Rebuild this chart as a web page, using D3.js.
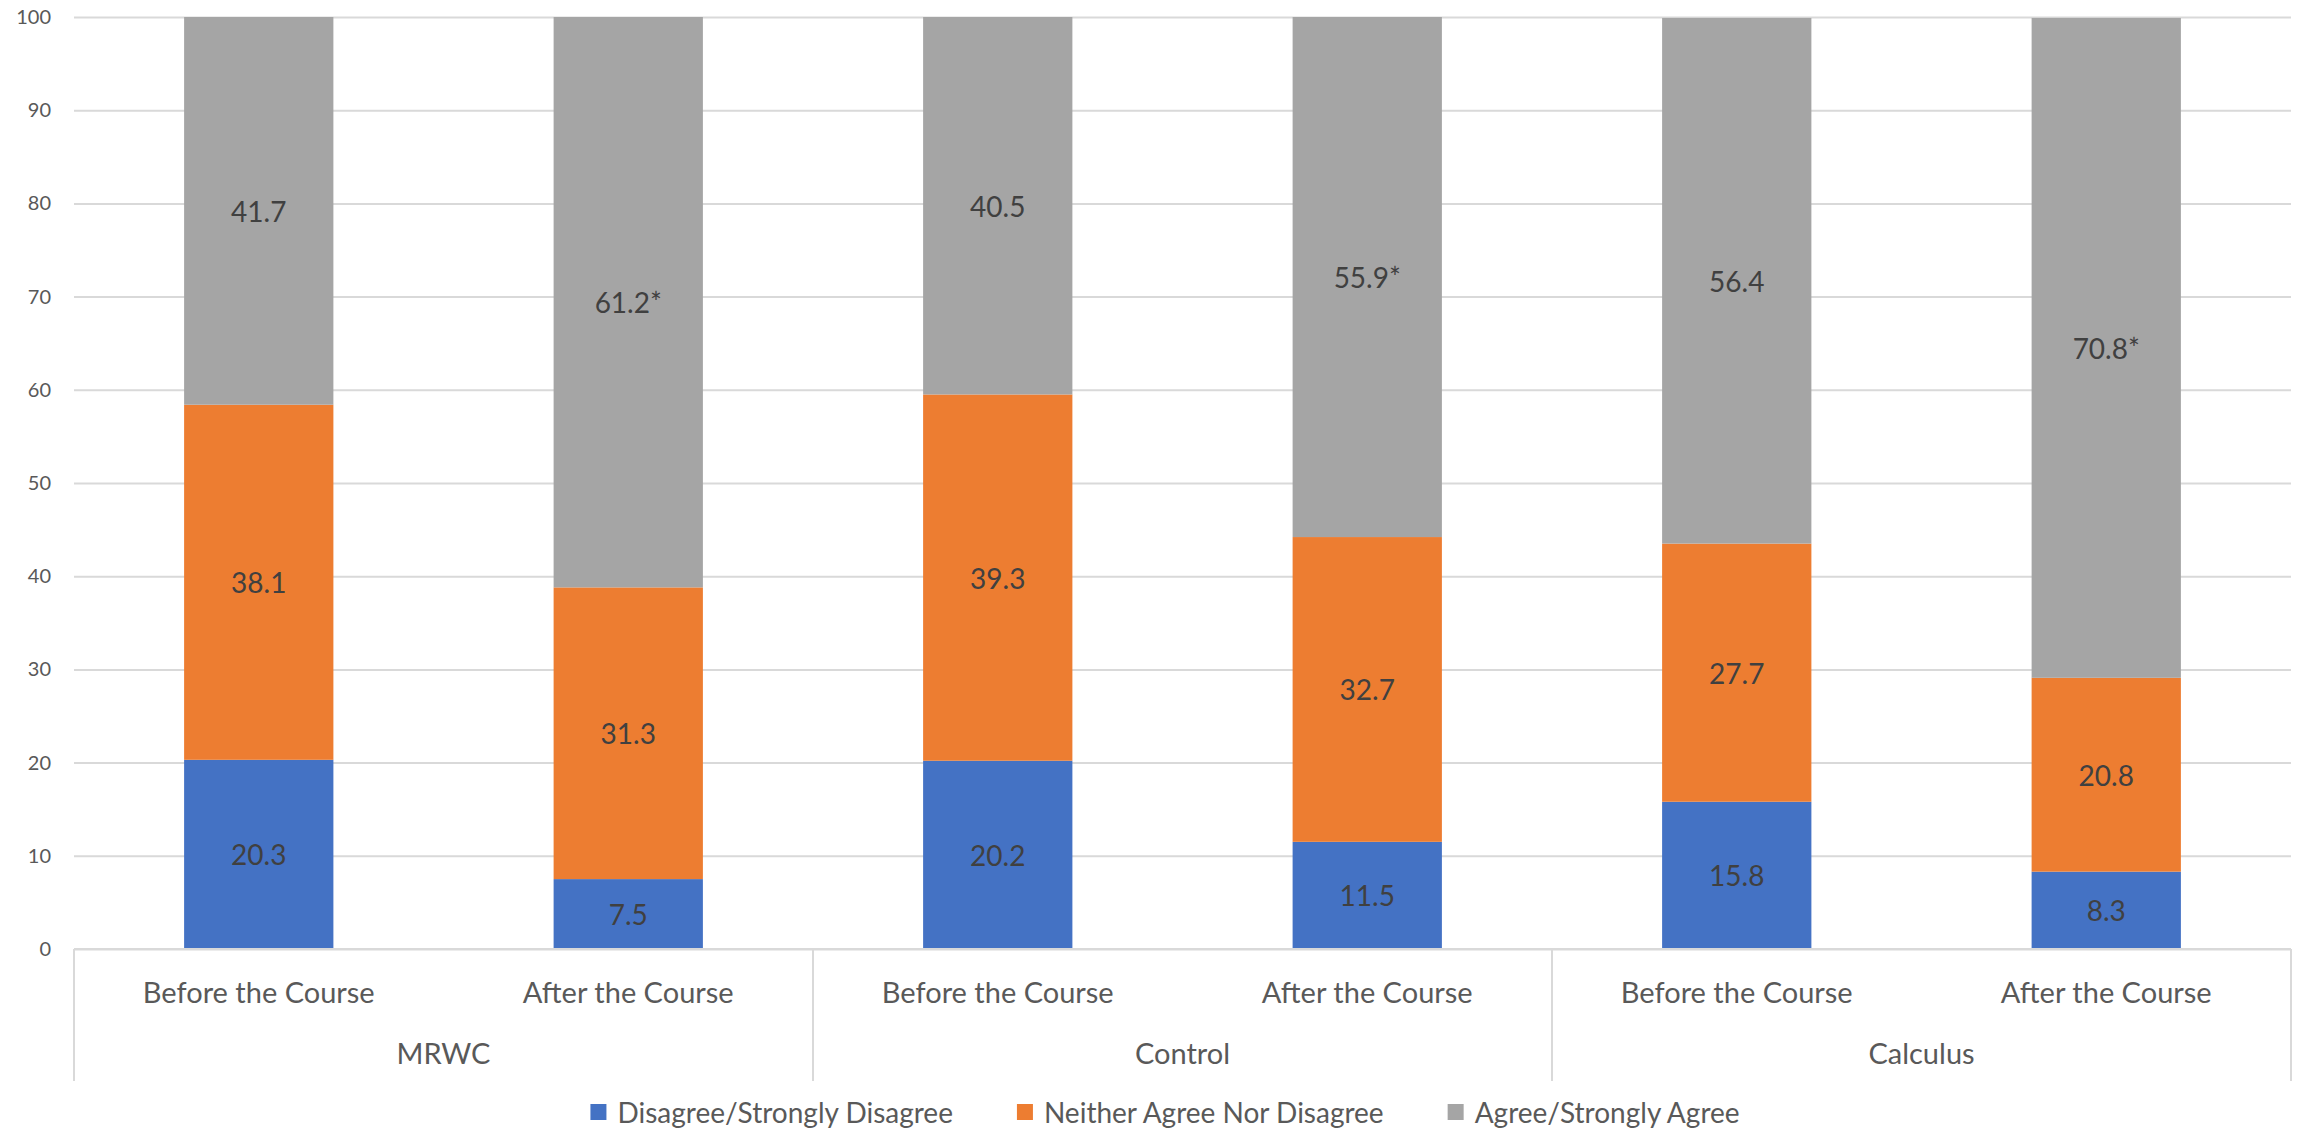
<!DOCTYPE html>
<html>
<head>
<meta charset="utf-8">
<script src="https://cdn.jsdelivr.net/npm/d3@7/dist/d3.min.js"></script>
<style>
  html, body { margin: 0; padding: 0; background: #ffffff; }
  svg { display: block; }
  text { font-family: Lato, "Liberation Sans", sans-serif; }
</style>
</head>
<body>
<svg id="chart" width="2302" height="1128"></svg>
<script>
// Survey responses (percent) per course and time point
const groups = ["MRWC", "Control", "Calculus"];
const phases = ["Before the Course", "After the Course"];
const disagree = [20.3, 7.5, 20.2, 11.5, 15.8, 8.3];
const neutral  = [38.1, 31.3, 39.3, 32.7, 27.7, 20.8];
const agree    = [41.7, 61.2, 40.5, 55.9, 56.4, 70.8];
const agreeLabels = ["41.7", "61.2*", "40.5", "55.9*", "56.4", "70.8*"];
const seriesNames = ["Disagree/Strongly Disagree", "Neither Agree Nor Disagree", "Agree/Strongly Agree"];
const seriesColors = ["#4472c4", "#ed7d31", "#a5a5a5"];
const yTicks = [0, 10, 20, 30, 40, 50, 60, 70, 80, 90, 100];

const svg = d3.select("#chart");
const W = 2302, H = 1128;
const plot = { left: 74, right: 2291, top: 17, bottom: 949 };

// one row per bar: group, phase and the three series values
const rows = disagree.map((d, i) => ({
  idx: i,
  group: groups[Math.floor(i / phases.length)],
  phase: phases[i % phases.length],
  disagree: d,
  neutral: neutral[i],
  agree: agree[i],
  labels: [d.toFixed(1), neutral[i].toFixed(1), agreeLabels[i]]
}));

const keys = ["disagree", "neutral", "agree"];
const stacked = d3.stack().keys(keys)(rows);

const x = d3.scaleBand()
  .domain(rows.map(r => r.idx))
  .range([plot.left, plot.right])
  .paddingInner(0.596)
  .paddingOuter(0.298);

const y = d3.scaleLinear()
  .domain([0, 100])
  .range([plot.bottom, plot.top])
  .clamp(true);

// gridlines and value axis
const yAxis = svg.append("g")
  .attr("transform", `translate(${plot.left},0)`)
  .call(d3.axisLeft(y).tickValues(yTicks).tickSize(-(plot.right - plot.left)).tickPadding(23));
yAxis.select(".domain").remove();
yAxis.selectAll(".tick line").attr("stroke", "#d9d9d9").attr("stroke-width", 2);
yAxis.selectAll(".tick text")
  .attr("fill", "#595959")
  .style("font-size", "20px")
  .style("font-family", "Lato, 'Liberation Sans', sans-serif");

// stacked bars
const layer = svg.append("g").selectAll("g")
  .data(stacked)
  .join("g")
  .attr("fill", (d, i) => seriesColors[i]);

layer.selectAll("rect")
  .data(d => d)
  .join("rect")
  .attr("x", d => x(d.data.idx))
  .attr("width", x.bandwidth())
  .attr("y", d => y(d[1]))
  .attr("height", d => y(d[0]) - y(d[1]));

// value labels centred in each segment
stacked.forEach((s, si) => {
  svg.append("g").selectAll("text")
    .data(s)
    .join("text")
    .attr("x", d => x(d.data.idx) + x.bandwidth() / 2)
    .attr("y", d => (y(d[0]) + y(d[1])) / 2)
    .attr("text-anchor", "middle")
    .attr("dominant-baseline", "central")
    .attr("fill", "#404040")
    .style("font-size", "28px")
    .text(d => d.data.labels[si]);
});

// category axis: baseline, group separators, labels
const axisG = svg.append("g");
axisG.append("line")
  .attr("x1", plot.left).attr("x2", plot.right)
  .attr("y1", plot.bottom).attr("y2", plot.bottom)
  .attr("stroke", "#d9d9d9").attr("stroke-width", 2);

const sepBottom = 1081;
const groupEdges = d3.range(groups.length + 1).map(g =>
  g === 0 ? plot.left
  : g === groups.length ? plot.right
  : x(g * phases.length) - x.step() * x.paddingInner() / 2);

axisG.selectAll("line.sep")
  .data(groupEdges)
  .join("line")
  .attr("class", "sep")
  .attr("x1", d => d).attr("x2", d => d)
  .attr("y1", plot.bottom).attr("y2", sepBottom)
  .attr("stroke", "#d9d9d9").attr("stroke-width", 2);

axisG.selectAll("text.phase")
  .data(rows)
  .join("text")
  .attr("class", "phase")
  .attr("x", d => x(d.idx) + x.bandwidth() / 2)
  .attr("y", 991)
  .attr("text-anchor", "middle")
  .attr("dominant-baseline", "central")
  .attr("fill", "#595959")
  .style("font-size", "29px")
  .text(d => d.phase);

axisG.selectAll("text.group")
  .data(groups)
  .join("text")
  .attr("class", "group")
  .attr("x", (d, i) => (groupEdges[i] + groupEdges[i + 1]) / 2)
  .attr("y", 1052)
  .attr("text-anchor", "middle")
  .attr("dominant-baseline", "central")
  .attr("fill", "#595959")
  .style("font-size", "29px")
  .text(d => d);

// legend
const legend = svg.append("g");
const items = legend.selectAll("g")
  .data(seriesNames)
  .join("g");
items.append("rect")
  .attr("width", 16).attr("height", 16)
  .attr("y", 1112 - 8)
  .attr("fill", (d, i) => seriesColors[i]);
items.append("text")
  .attr("x", 27)
  .attr("y", 1112)
  .attr("dominant-baseline", "central")
  .attr("fill", "#595959")
  .style("font-size", "28px")
  .text(d => d);

let cursor = 0;
const itemGap = 64;
const widths = [];
items.each(function () {
  const w = this.getBBox().width;
  widths.push(w);
});
const totalW = d3.sum(widths) + itemGap * (widths.length - 1);
cursor = 1165 - totalW / 2;
items.attr("transform", (d, i) => {
  const t = `translate(${cursor},0)`;
  cursor += widths[i] + itemGap;
  return t;
});
</script>
</body>
</html>
